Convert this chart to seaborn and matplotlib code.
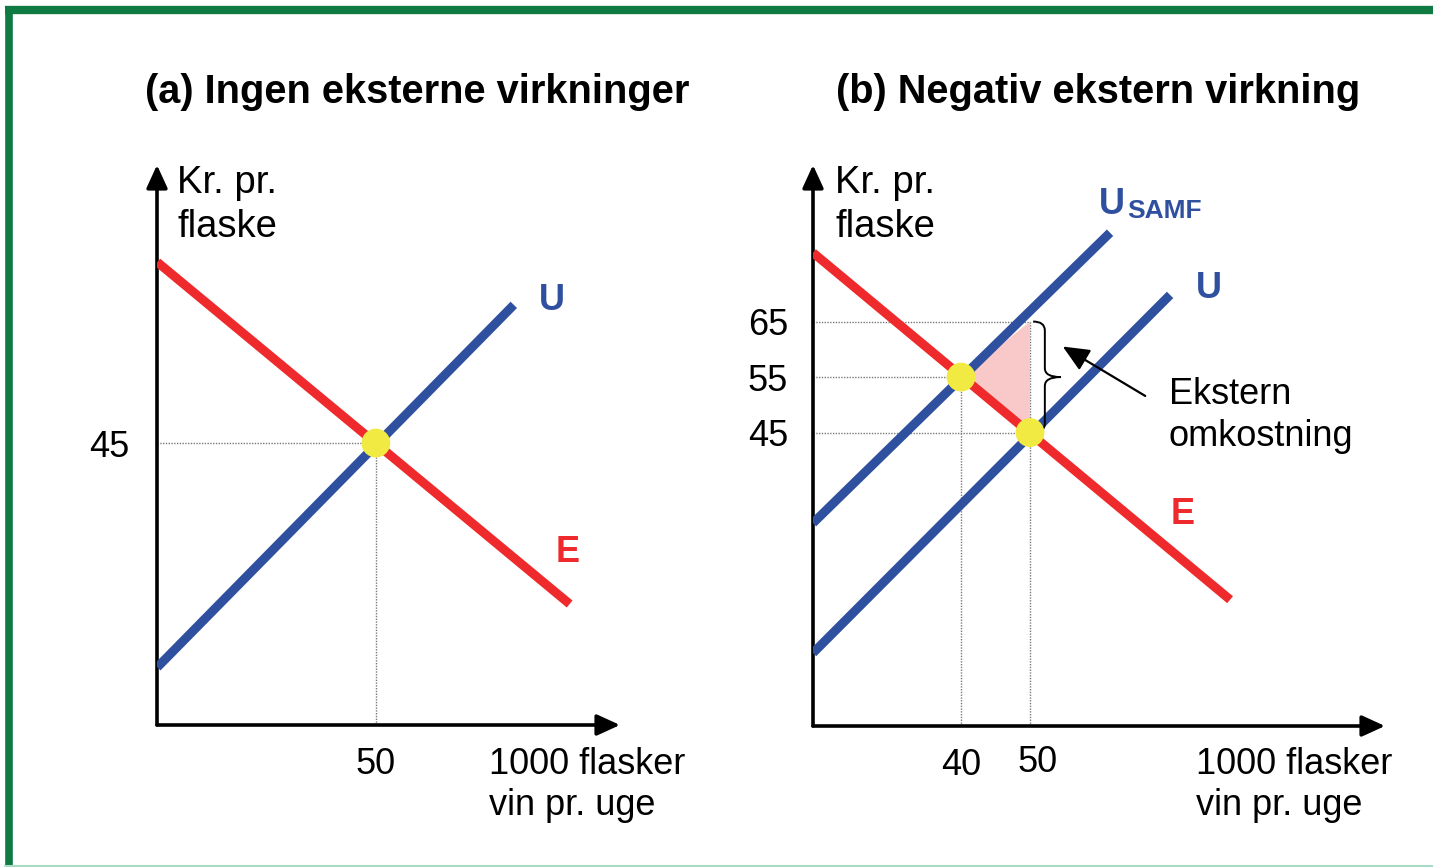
import numpy as np
import pandas as pd
import matplotlib
matplotlib.use("Agg")
import matplotlib.pyplot as plt
import seaborn as sns
from matplotlib.path import Path
from matplotlib.patches import PathPatch
from matplotlib.lines import Line2D
from matplotlib.transforms import ScaledTranslation

# ---------------- data ----------------
# panel (a)
a_E_x = [18.3, 78.1]
a_E_y = [77.6, 16.0]
a_U_x = [18.3, 70.0]
a_U_y = [4.6, 69.9]
a_eq_x = [50]
a_eq_y = [45]
a_xticks = [50]
a_yticks = [45]

# panel (b)
b_E_x = [18.55, 79.0]
b_E_y = [77.4, 14.9]
b_U_x = [18.55, 70.3]
b_U_y = [5.3, 69.8]
b_US_x = [18.55, 61.6]
b_US_y = [28.7, 81.0]
b_eq_x = [40, 50]
b_eq_y = [55, 45]
b_tri_x = [40, 50, 50]
b_tri_y = [55, 65, 45]
b_xticks = [40, 50]
b_yticks = [45, 55, 65]

titles = ["(a) Ingen eksterne virkninger", "(b) Negativ ekstern virkning"]
ylab = ["Kr. pr.", "flaske"]
xlab = ["1000 flasker", "vin pr. uge"]
ext_lab = ["Ekstern", "omkostning"]

# ---------------- style ----------------
sns.set_theme(style="white")
plt.rcParams["font.family"] = ["Liberation Sans", "DejaVu Sans"]
plt.rcParams["text.color"] = "black"
plt.rcParams["xtick.color"] = "black"
plt.rcParams["ytick.color"] = "black"
plt.rcParams["xtick.labelcolor"] = "black"
plt.rcParams["ytick.labelcolor"] = "black"

RED = "#EF2A2C"
BLUE = "#2F4F9F"
YEL = "#F1EA42"
PINK = "#F9C9C9"
GREEN = "#0F7A41"
GRID = "#7a7a7a"

W, H = 1433, 867
fig = plt.figure(figsize=(W / 100, H / 100), dpi=100)
fig.patch.set_facecolor("white")


def box(l, t, r, b):
    return [l / W, 1 - b / H, (r - l) / W, (b - t) / H]


def P(x, y):
    return (x / W, 1 - y / H)


axA = fig.add_axes(box(157, 165, 620, 725))
axB = fig.add_axes(box(813, 165, 1385, 726))
axA.set_xlim(18.26, 85.4)
axA.set_ylim(-5.8, 95.1)
axB.set_xlim(18.55, 101.45)
axB.set_ylim(-7.85, 93.2)

LW = 6.5
FS = 26

for ax in (axA, axB):
    for s in ax.spines.values():
        s.set_visible(False)
    ax.set_facecolor("none")
    ax.tick_params(length=0)
    x0, x1 = ax.get_xlim()
    y0, y1 = ax.get_ylim()
    arrow = dict(arrowstyle="-|>,head_length=0.7,head_width=0.32", lw=2.6,
                 color="black", shrinkA=0, shrinkB=0, mutation_scale=20)
    ax.annotate("", xy=(x1, y0), xytext=(x0, y0), arrowprops=arrow,
                annotation_clip=False)
    ax.annotate("", xy=(x0, y1), xytext=(x0, y0), arrowprops=arrow,
                annotation_clip=False)

dot = dict(linestyle=(0, (1, 1)), lw=1.0, color=GRID, zorder=1)

# ---- panel (a) ----
axA.plot([axA.get_xlim()[0], a_eq_x[0]], [a_eq_y[0]] * 2, **dot)
axA.plot([a_eq_x[0]] * 2, [axA.get_ylim()[0], a_eq_y[0]], **dot)
sns.lineplot(x=a_E_x, y=a_E_y, ax=axA, color=RED, lw=LW, sort=False,
             solid_capstyle="butt", zorder=3)
sns.lineplot(x=a_U_x, y=a_U_y, ax=axA, color=BLUE, lw=LW, sort=False,
             solid_capstyle="butt", zorder=3)
sns.scatterplot(x=a_eq_x, y=a_eq_y, ax=axA, color=YEL, s=430,
                edgecolor="none", zorder=5)
axA.set_xticks(a_xticks, [str(v) for v in a_xticks], fontsize=FS)
axA.set_yticks(a_yticks, [str(v) for v in a_yticks], fontsize=FS)
axA.tick_params(axis="x", pad=16)
axA.tick_params(axis="y", pad=20)

# ---- panel (b) ----
xb0, yb0 = axB.get_xlim()[0], axB.get_ylim()[0]
axB.plot([xb0, b_tri_x[1]], [b_tri_y[1]] * 2, **dot)
axB.plot([xb0, b_eq_x[0]], [b_eq_y[0]] * 2, **dot)
axB.plot([xb0, b_eq_x[1]], [b_eq_y[1]] * 2, **dot)
axB.plot([b_eq_x[0]] * 2, [yb0, b_eq_y[0]], **dot)
axB.plot([b_tri_x[1]] * 2, [yb0, b_tri_y[1]], **dot)
axB.fill(b_tri_x, b_tri_y, color=PINK, lw=0, zorder=2)
sns.lineplot(x=b_E_x, y=b_E_y, ax=axB, color=RED, lw=LW, sort=False,
             solid_capstyle="butt", zorder=3)
sns.lineplot(x=b_U_x, y=b_U_y, ax=axB, color=BLUE, lw=LW, sort=False,
             solid_capstyle="butt", zorder=3)
sns.lineplot(x=b_US_x, y=b_US_y, ax=axB, color=BLUE, lw=LW, sort=False,
             solid_capstyle="butt", zorder=3)
sns.scatterplot(x=b_eq_x, y=b_eq_y, ax=axB, color=YEL, s=430,
                edgecolor="none", zorder=5)
axB.set_xticks(b_xticks, [str(v) for v in b_xticks], fontsize=FS)
axB.set_yticks(b_yticks, [str(v) for v in b_yticks], fontsize=FS)
axB.tick_params(axis="x", pad=16)
axB.tick_params(axis="y", pad=18)
# the "50" label sits a little right of its guide line in the original
lab50 = axB.get_xticklabels()[1]
lab50.set_transform(lab50.get_transform()
                    + ScaledTranslation(0.08, 0.03, fig.dpi_scale_trans))

# brace between 45 and 65 at x = 50
bx = b_tri_x[1] + 0.45
ytop, ybot = b_tri_y[1], b_eq_y[1]
ymid = (ytop + ybot) / 2
d = 1.7   # horizontal offset of brace body
tip = 4.0
r = 1.6
codes = [Path.MOVETO, Path.CURVE3, Path.CURVE3, Path.LINETO,
         Path.CURVE3, Path.CURVE3, Path.MOVETO,
         Path.CURVE3, Path.CURVE3, Path.LINETO,
         Path.LINETO, Path.CURVE3, Path.CURVE3]
verts = [(bx, ytop), (bx + d, ytop), (bx + d, ytop - r),
         (bx + d, ymid + r),
         (bx + d, ymid), (bx + tip, ymid),
         (bx + tip, ymid),
         (bx + d, ymid), (bx + d, ymid - r),
         (bx + d, ybot + r),
         (bx + d, ybot + r), (bx + d, ybot), (bx, ybot)]
axB.add_patch(PathPatch(Path(verts, codes), fill=False, lw=1.4,
                        color="black", zorder=4))

# arrow pointing at the brace
axB.annotate("", xy=(bx + tip + 0.3, 60.5), xytext=(66.7, 51.6),
             arrowprops=dict(arrowstyle="-|>,head_length=0.9,head_width=0.4",
                             lw=1.6, color="black", shrinkA=0, shrinkB=0,
                             mutation_scale=18), zorder=6)

# ---------------- texts ----------------
fig.text(*P(145, 103), titles[0], fontsize=28.6, fontweight="bold",
         va="baseline", ha="left")
fig.text(*P(836, 103), titles[1], fontsize=28.6, fontweight="bold",
         va="baseline", ha="left")

for x0 in (177, 835):
    fig.text(*P(x0, 193), ylab[0], fontsize=27.5, va="baseline")
    fig.text(*P(x0, 237), ylab[1], fontsize=27.5, va="baseline")
for x0 in (489, 1196):
    fig.text(*P(x0, 774), xlab[0], fontsize=FS, va="baseline")
    fig.text(*P(x0, 815), xlab[1], fontsize=FS, va="baseline")

fig.text(*P(1169, 404), ext_lab[0], fontsize=FS, va="baseline")
fig.text(*P(1169, 446), ext_lab[1], fontsize=FS, va="baseline")

fig.text(*P(552, 301), "U", fontsize=26, fontweight="bold", color=BLUE,
         ha="center", va="center")
fig.text(*P(568, 553), "E", fontsize=26, fontweight="bold", color=RED,
         ha="center", va="center")
fig.text(*P(1209, 288), "U", fontsize=26, fontweight="bold", color=BLUE,
         ha="center", va="center")
fig.text(*P(1183, 514), "E", fontsize=26, fontweight="bold", color=RED,
         ha="center", va="center")
fig.text(*P(1099, 214), "U", fontsize=26, fontweight="bold", color=BLUE,
         ha="left", va="baseline")
fig.text(*P(1127, 218), "SAMF", fontsize=19, fontweight="bold", color=BLUE,
         ha="left", va="baseline")

# ---------------- green frame ----------------
fig.add_artist(Line2D([5 / W, 1.0], [1 - 10 / H] * 2, color=GREEN, lw=6,
                      transform=fig.transFigure, solid_capstyle="butt"))
fig.add_artist(Line2D([8.5 / W] * 2, [0.0, 1 - 6 / H], color=GREEN, lw=5.5,
                      transform=fig.transFigure, solid_capstyle="butt"))
fig.add_artist(Line2D([5 / W, 1.0], [1.2 / H] * 2, color="#a9dcc6", lw=1.5,
                      transform=fig.transFigure))

fig.savefig("out.png", dpi=100)
